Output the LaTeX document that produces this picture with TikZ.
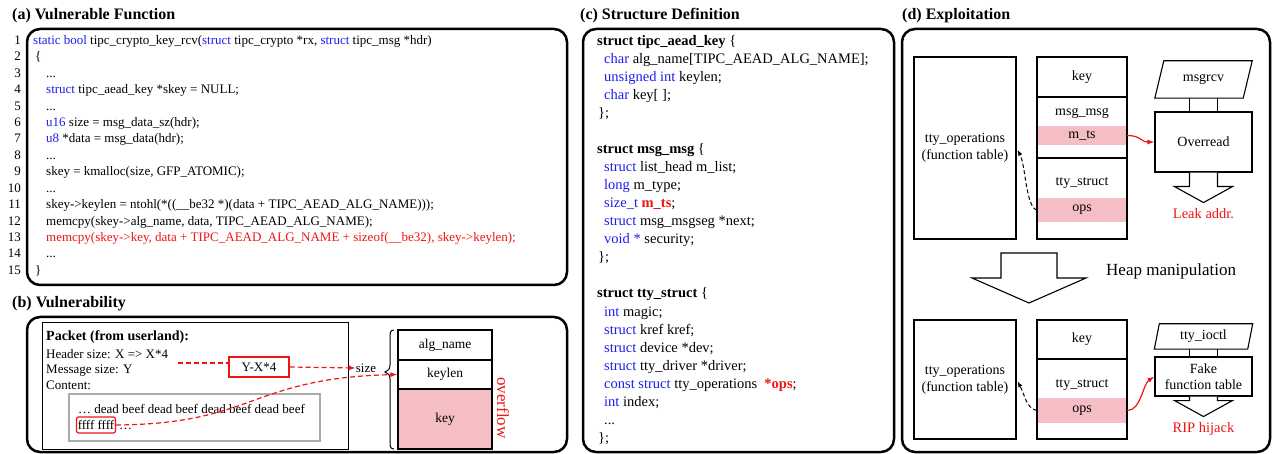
\documentclass[tikz,border=0pt]{standalone}
\usepackage{fontspec}
\setmainfont{Liberation Serif}
\usetikzlibrary{arrows.meta,calc}
\definecolor{kwblue}{RGB}{30,30,235}
\definecolor{hlred}{RGB}{240,20,20}
\definecolor{cellpink}{RGB}{244,190,196}
\definecolor{boxgray}{RGB}{170,170,170}
\newcommand\kwd[1]{\textcolor{kwblue}{#1}}
\newcommand\hlt[1]{\textcolor{hlred}{#1}}

\begin{document}
\begin{tikzpicture}[x=1pt,y=-1pt,
  panel/.style={draw, line width=2.5pt, rounded corners=13pt},
  title/.style={font=\fontsize{16}{18}\selectfont\bfseries, anchor=base west, inner sep=0pt},
  codeA/.style={font=\fontsize{13}{15}\selectfont, anchor=mid west, inner sep=0pt},
  lnum/.style={font=\fontsize{13}{15}\selectfont, anchor=mid east, inner sep=0pt},
  codeC/.style={font=\fontsize{14.5}{17}\selectfont, anchor=mid west, inner sep=0pt},
  txtB/.style={font=\fontsize{13}{15}\selectfont, anchor=mid west, inner sep=0pt},
  cellB/.style={draw, line width=1.1pt, minimum width=94pt, inner sep=0pt, font=\fontsize{13.5}{16}\selectfont},
  cell/.style={draw, line width=1.1pt, minimum width=90pt, inner sep=0pt, font=\fontsize{14}{16}\selectfont},
  band/.style={fill=cellpink, minimum width=90pt, inner sep=0pt, font=\fontsize{14}{16}\selectfont},
  lbl/.style={inner sep=0pt, font=\fontsize{14}{16}\selectfont},
  tbl/.style={draw, line width=1.1pt, minimum width=102pt, align=center, inner sep=0pt, font=\fontsize{14}{17}\selectfont},
  paratext/.style={inner sep=0pt, font=\fontsize{14}{16}\selectfont},
  procbox/.style={draw, line width=1.1pt, minimum width=97pt, align=center, inner sep=0pt, font=\fontsize{14}{16}\selectfont},
  blk/.style={draw, fill=white, line width=1.1pt, line join=miter},
  link/.style={line width=1.1pt},
  reddash/.style={draw=hlred, line width=1.2pt, dash pattern=on 5pt off 3pt},
  redarr/.style={draw=hlred, line width=1.2pt, -{Latex[length=7pt,width=5pt]}},
  blkdash/.style={line width=1pt, dash pattern=on 4pt off 2.5pt, -{Latex[length=6pt,width=4.5pt]}, shorten >=2pt},
  outcome/.style={text=hlred, inner sep=0pt, font=\fontsize{14.5}{17}\selectfont}
]
\useasboundingbox (0,0) rectangle (1272,454);

% ---------- panel frames and titles ----------
\draw[panel] (27,29) rectangle (567,285);
\draw[panel] (27,317) rectangle (567,452);
\draw[panel] (583,29) rectangle (894,452);
\draw[panel] (902,29) rectangle (1270,452);
\node[title] (ta) at (12,20) {(a) Vulnerable Function};
\node[title] (tb) at (12,308) {(b) Vulnerability};
\node[title] (tc) at (580,20) {(c) Structure Definition};
\node[title] (td) at (902,20) {(d) Exploitation};

% ---------- (a) source listing ----------
\foreach \i in {1,...,15} \node[lnum] (ln\i) at (21,{42+(\i-1)*16.43}) {\i};
\node[codeA] (a1) at (33,42) {\kwd{static bool} tipc\_crypto\_key\_rcv(\kwd{struct} tipc\_crypto *rx, \kwd{struct} tipc\_msg *hdr)};
\node[codeA] (a2) at (35,58.43) {\{};
\node[codeA] (a3) at (46,74.86) {...};
\node[codeA] (a4) at (46,91.29) {\kwd{struct} tipc\_aead\_key *skey = NULL;};
\node[codeA] (a5) at (46,107.72) {...};
\node[codeA] (a6) at (46,124.15) {\kwd{u16} size = msg\_data\_sz(hdr);};
\node[codeA] (a7) at (46,140.58) {\kwd{u8} *data = msg\_data(hdr);};
\node[codeA] (a8) at (46,157.01) {...};
\node[codeA] (a9) at (46,173.44) {skey = kmalloc(size, GFP\_ATOMIC);};
\node[codeA] (a10) at (46,189.87) {...};
\node[codeA] (a11) at (46,206.3) {skey->keylen = ntohl(*((\_\_be32 *)(data + TIPC\_AEAD\_ALG\_NAME)));};
\node[codeA] (a12) at (46,222.73) {memcpy(skey->alg\_name, data, TIPC\_AEAD\_ALG\_NAME);};
\node[codeA, text=hlred] (a13) at (46,239.16) {memcpy(skey->key, data + TIPC\_AEAD\_ALG\_NAME + sizeof(\_\_be32), skey->keylen);};
\node[codeA] (a14) at (46,255.59) {...};
\node[codeA] (a15) at (35,272.02) {\}};

% ---------- (b) packet and key layout ----------
\draw[line width=1pt] (42,323) rectangle (348,449);
\draw[boxgray, line width=2pt] (69,394) rectangle (320,441);
\node[txtB, font=\fontsize{14}{16}\selectfont\bfseries] (pk) at (46,338) {Packet (from userland):};
\node[txtB] (hs) at (46,356) {Header size: X => X*4};
\node[txtB] (ms) at (46,371) {Message size: Y};
\node[txtB] (ct) at (46,387) {Content:};
\node[txtB] (db) at (78,411) {… dead beef dead beef dead beef dead beef};
\node[draw=hlred, rounded corners=2pt, line width=1.2pt, inner sep=1.2pt, minimum height=16pt,
      font=\fontsize{13}{15}\selectfont] (ff) at (96,425) {ffff ffff};
\node[anchor=base west, inner sep=0pt, font=\fontsize{13}{15}\selectfont] (fd) at ([xshift=3pt]ff.base east) {…};
\node[draw=hlred, line width=1.2pt, minimum width=60pt, minimum height=20pt, inner sep=0pt,
      font=\fontsize{13}{15}\selectfont] (yx) at (259,367) {Y-X*4};
\node[inner sep=0pt, font=\fontsize{13}{15}\selectfont] (size) at (366,368) {size};

\node[cellB, minimum height=30pt] (an) at (445,345) {alg\_name};
\node[cellB, minimum height=29pt] (kl) at (445,374.5) {keylen};
\node[cellB, minimum height=60pt, fill=cellpink] (ky) at (445,419) {key};
\node[text=hlred, rotate=-90, inner sep=0pt, font=\fontsize{17}{19}\selectfont] (ovf) at (503,408) {overflow};

% brace spanning the key buffer
\draw[line width=1pt] (394,330) .. controls (390,330) and (390,333) .. (390,338) -- (390,365)
  .. controls (390,369) and (388,371) .. (385,372) .. controls (388,373) and (390,375) .. (390,379)
  -- (390,441) .. controls (390,446) and (390,449) .. (394,449);

\coordinate (hdrend) at (178,363);
\draw[reddash] (hdrend) -- (hdrend -| yx.west);
\draw[reddash, -{Latex[length=7pt,width=5pt]}] (yx.east) -- (size.west);
\draw[reddash, -{Latex[length=7pt,width=5pt]}] (ff.east) .. controls (255,424) and (250,378) .. (kl.west);

% ---------- (c) structure definitions ----------
\node[codeC] (c0) at (597,43) {\textbf{struct tipc\_aead\_key} \{};
\node[codeC] (c1) at (604,61.05) {\kwd{char} alg\_name[TIPC\_AEAD\_ALG\_NAME];};
\node[codeC] (c2) at (604,79.1) {\kwd{unsigned int} keylen;};
\node[codeC] (c3) at (604,97.15) {\kwd{char} key[ ];};
\node[codeC] (c4) at (598,115.2) {\};};
\node[codeC] (c6) at (597,151.3) {\textbf{struct msg\_msg} \{};
\node[codeC] (c7) at (604,169.35) {\kwd{struct} list\_head m\_list;};
\node[codeC] (c8) at (604,187.4) {\kwd{long} m\_type;};
\node[codeC] (c9) at (604,205.45) {\kwd{size\_t} \hlt{\textbf{m\_ts}};};
\node[codeC] (c10) at (604,223.5) {\kwd{struct} msg\_msgseg *next;};
\node[codeC] (c11) at (604,241.55) {\kwd{void *} security;};
\node[codeC] (c12) at (598,259.6) {\};};
\node[codeC] (c14) at (597,295.7) {\textbf{struct tty\_struct} \{};
\node[codeC] (c15) at (604,313.75) {\kwd{int} magic;};
\node[codeC] (c16) at (604,331.8) {\kwd{struct} kref kref;};
\node[codeC] (c17) at (604,349.85) {\kwd{struct} device *dev;};
\node[codeC] (c18) at (604,367.9) {\kwd{struct} tty\_driver *driver;};
\node[codeC] (c19) at (604,385.95) {\kwd{const struct} tty\_operations\ \ \hlt{\textbf{*ops}};};
\node[codeC] (c20) at (604,404) {\kwd{int} index;};
\node[codeC] (c21) at (604,422.05) {...};
\node[codeC] (c22) at (598,440.1) {\};};

% ---------- (d) exploitation, leak stage ----------
\node[tbl, minimum height=182pt] (fta) at (965,148) {tty\_operations\\(function table)};
\node[band, minimum height=19pt] (mtsa) at (1082,135.5) {m\_ts};
\node[band, minimum height=24pt] (opsa) at (1082,210) {ops};
\node[cell, minimum height=40pt] (keya) at (1082,77) {key};
\node[cell, minimum height=61pt] (mma) at (1082,127.5) {};
\node[cell, minimum height=81pt] (ttya) at (1082,198.5) {};
\node[lbl] (mmla) at (1082,113) {msg\_msg};
\node[lbl] (ttyla) at (1082,183) {tty\_struct};

% msgrcv input (parallelogram leaning right)
\node[paratext, minimum width=88pt, minimum height=37pt] (rcv) at (1203.5,79.5) {msgrcv};
\draw[link] ($(rcv.south west)+(-4.5,0)$) -- ($(rcv.south east)+(-4.5,0)$)
  -- ($(rcv.north east)+(4.5,0)$) -- ($(rcv.north west)+(4.5,0)$) -- cycle;
\node[procbox, minimum height=60pt] (over) at (1203.5,142) {Overread};
\coordinate (o1) at ([xshift=-14pt]over.north);
\coordinate (o2) at ([xshift=14pt]over.north);
\draw[link] (o1) -- (o1 |- rcv.south);
\draw[link] (o2) -- (o2 |- rcv.south);
\coordinate (os) at (over.south);
\draw[blk] ($(os)+(-14,0)$) -- ($(os)+(-14,14)$) -- ($(os)+(-29,14)$) -- ($(os)+(0,30)$)
  -- ($(os)+(29,14)$) -- ($(os)+(14,14)$) -- ($(os)+(14,0)$);
\node[outcome] (leak) at (1203.5,214) {Leak addr.};

\draw[redarr] (mtsa.east) .. controls ($(mtsa.east)+(14,0)$) and ($(over.west)+(-14,0)$) .. (over.west);
\draw[blkdash] (opsa.west) .. controls ($(opsa.west)+(-11,-3)$) and ($(fta.east)+(9,17)$) .. (fta.east);

% heap manipulation step
\draw[blk] (1001,253) -- (1057,253) -- (1057,278) -- (1086,278) -- (1029,303) -- (972,278) -- (1001,278) -- cycle;
\node[anchor=mid west, inner sep=0pt, font=\fontsize{17}{19}\selectfont] (heap) at (1106,273) {Heap manipulation};

% ---------- (d) exploitation, hijack stage ----------
\node[tbl, minimum height=119pt] (ftb) at (965,379.5) {tty\_operations\\(function table)};
\node[band, minimum height=25pt] (opsb) at (1082,410.5) {ops};
\node[cell, minimum height=39pt] (keyb) at (1082,339.5) {key};
\node[cell, minimum height=80pt] (ttyb) at (1082,399) {};
\node[lbl] (ttylb) at (1082,385) {tty\_struct};

% tty_ioctl input (parallelogram leaning right)
\node[paratext, minimum width=93pt, minimum height=25pt] (ioctl) at (1203.5,336.5) {tty\_ioctl};
\draw[link] ($(ioctl.south west)+(-2.5,0)$) -- ($(ioctl.south east)+(-2.5,0)$)
  -- ($(ioctl.north east)+(2.5,0)$) -- ($(ioctl.north west)+(2.5,0)$) -- cycle;
\node[procbox, minimum height=39pt, font=\fontsize{14}{16}\selectfont] (fake) at (1203.5,376.5) {Fake\\function table};
\coordinate (f1) at ([xshift=-14pt]fake.north);
\coordinate (f2) at ([xshift=14pt]fake.north);
\draw[link] (f1) -- (f1 |- ioctl.south);
\draw[link] (f2) -- (f2 |- ioctl.south);
\coordinate (fs) at (fake.south);
\draw[blk] ($(fs)+(-14,0)$) -- ($(fs)+(-14,4)$) -- ($(fs)+(-29,4)$) -- ($(fs)+(0,20)$)
  -- ($(fs)+(29,4)$) -- ($(fs)+(14,4)$) -- ($(fs)+(14,0)$);
\node[outcome] (rip) at (1203.5,429) {RIP hijack};

\draw[redarr] (opsb.east) .. controls ($(opsb.east)+(14,0)$) and ($(fake.west)+(-12,8)$) .. (fake.west);
\draw[blkdash] (opsb.west) .. controls ($(opsb.west)+(-11,-3)$) and ($(ftb.east)+(9,17)$) .. (ftb.east);
\end{tikzpicture}
\end{document}
